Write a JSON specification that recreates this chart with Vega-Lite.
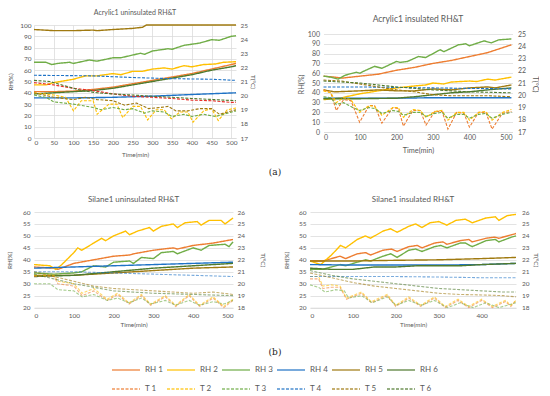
{
"$schema":"https://vega.github.io/schema/vega-lite/v6.json",
"background":"white",
"padding":{"left":6,"top":9,"right":0,"bottom":0},
"config":{
 "view":{"stroke":null},
 "font":"Lato",
 "title":{"font":"Lato","color":"#595959","fontWeight":"normal","fontSize":8},
 "axis":{"labelFont":"Lato","titleFont":"Lato","labelColor":"#595959","titleColor":"#595959","titleFontWeight":"normal","ticks":false,"domain":false,"gridColor":"#d9d9d9","gridWidth":0.75,"labelFontSize":6.5,"titleFontSize":6.3,"labelOverlap":false},
 "axisX":{"domain":true,"domainColor":"#d9d9d9","domainWidth":0.75,"grid":false,"labelOverlap":false}
},
"datasets":{
"TL":[
{"s":"RH 1","x":0,"y":41},{"s":"RH 1","x":50,"y":41},{"s":"RH 1","x":100,"y":41.5},{"s":"RH 1","x":150,"y":43},{"s":"RH 1","x":200,"y":45},{"s":"RH 1","x":250,"y":48},{"s":"RH 1","x":300,"y":51},{"s":"RH 1","x":350,"y":54},{"s":"RH 1","x":400,"y":57},{"s":"RH 1","x":450,"y":61},{"s":"RH 1","x":500,"y":65},{"s":"RH 1","x":512,"y":66},
{"s":"RH 2","x":0,"y":47},{"s":"RH 2","x":30,"y":47},{"s":"RH 2","x":50,"y":49},{"s":"RH 2","x":100,"y":52},{"s":"RH 2","x":130,"y":55},{"s":"RH 2","x":160,"y":55},{"s":"RH 2","x":200,"y":57},{"s":"RH 2","x":220,"y":56},{"s":"RH 2","x":250,"y":59},{"s":"RH 2","x":275,"y":59},{"s":"RH 2","x":300,"y":61},{"s":"RH 2","x":330,"y":62},{"s":"RH 2","x":350,"y":61},{"s":"RH 2","x":380,"y":64},{"s":"RH 2","x":400,"y":63},{"s":"RH 2","x":430,"y":65},{"s":"RH 2","x":460,"y":65.5},{"s":"RH 2","x":480,"y":67},{"s":"RH 2","x":512,"y":67.5},
{"s":"RH 3","x":0,"y":67},{"s":"RH 3","x":30,"y":67},{"s":"RH 3","x":45,"y":65},{"s":"RH 3","x":60,"y":66},{"s":"RH 3","x":90,"y":67},{"s":"RH 3","x":100,"y":66},{"s":"RH 3","x":140,"y":69},{"s":"RH 3","x":160,"y":68},{"s":"RH 3","x":200,"y":71},{"s":"RH 3","x":220,"y":71},{"s":"RH 3","x":270,"y":75},{"s":"RH 3","x":280,"y":74},{"s":"RH 3","x":300,"y":77},{"s":"RH 3","x":340,"y":79},{"s":"RH 3","x":350,"y":78.5},{"s":"RH 3","x":380,"y":82},{"s":"RH 3","x":400,"y":83},{"s":"RH 3","x":420,"y":84},{"s":"RH 3","x":450,"y":87},{"s":"RH 3","x":470,"y":86.5},{"s":"RH 3","x":500,"y":90},{"s":"RH 3","x":512,"y":90.5},
{"s":"RH 4","x":0,"y":35.5},{"s":"RH 4","x":100,"y":35.5},{"s":"RH 4","x":200,"y":36},{"s":"RH 4","x":300,"y":37},{"s":"RH 4","x":400,"y":38.5},{"s":"RH 4","x":512,"y":40},
{"s":"RH 5","x":0,"y":96},{"s":"RH 5","x":50,"y":95},{"s":"RH 5","x":100,"y":95},{"s":"RH 5","x":150,"y":95.5},{"s":"RH 5","x":160,"y":95},{"s":"RH 5","x":200,"y":96},{"s":"RH 5","x":250,"y":97},{"s":"RH 5","x":275,"y":98},{"s":"RH 5","x":285,"y":100},{"s":"RH 5","x":512,"y":100},
{"s":"RH 6","x":0,"y":39},{"s":"RH 6","x":50,"y":40},{"s":"RH 6","x":100,"y":41},{"s":"RH 6","x":150,"y":42},{"s":"RH 6","x":200,"y":44},{"s":"RH 6","x":250,"y":47},{"s":"RH 6","x":300,"y":50},{"s":"RH 6","x":350,"y":53},{"s":"RH 6","x":400,"y":56},{"s":"RH 6","x":450,"y":60},{"s":"RH 6","x":500,"y":63},{"s":"RH 6","x":512,"y":64},
{"s":"T 1","x":0,"y":20.92},{"s":"T 1","x":50,"y":20.76},{"s":"T 1","x":100,"y":20.52},{"s":"T 1","x":150,"y":20.36},{"s":"T 1","x":200,"y":20.12},{"s":"T 1","x":250,"y":19.96},{"s":"T 1","x":300,"y":19.88},{"s":"T 1","x":350,"y":19.8},{"s":"T 1","x":400,"y":19.68},{"s":"T 1","x":450,"y":19.64},{"s":"T 1","x":500,"y":19.52},{"s":"T 1","x":512,"y":19.52},
{"s":"T 2","x":0,"y":20.2},{"s":"T 2","x":50,"y":20.04},{"s":"T 2","x":80,"y":19.88},{"s":"T 2","x":100,"y":18.92},{"s":"T 2","x":120,"y":19.64},{"s":"T 2","x":150,"y":19.64},{"s":"T 2","x":160,"y":18.68},{"s":"T 2","x":190,"y":19.4},{"s":"T 2","x":210,"y":19.4},{"s":"T 2","x":225,"y":18.44},{"s":"T 2","x":250,"y":19.24},{"s":"T 2","x":270,"y":19.24},{"s":"T 2","x":288,"y":18.28},{"s":"T 2","x":310,"y":19.0},{"s":"T 2","x":330,"y":19.0},{"s":"T 2","x":348,"y":18.36},{"s":"T 2","x":370,"y":18.84},{"s":"T 2","x":390,"y":18.84},{"s":"T 2","x":403,"y":18.12},{"s":"T 2","x":430,"y":18.92},{"s":"T 2","x":450,"y":19.08},{"s":"T 2","x":467,"y":18.24},{"s":"T 2","x":490,"y":19.0},{"s":"T 2","x":512,"y":19.12},
{"s":"T 3","x":0,"y":20.04},{"s":"T 3","x":30,"y":19.88},{"s":"T 3","x":50,"y":19.56},{"s":"T 3","x":100,"y":19.4},{"s":"T 3","x":150,"y":19.16},{"s":"T 3","x":170,"y":19.0},{"s":"T 3","x":200,"y":19.16},{"s":"T 3","x":230,"y":19.0},{"s":"T 3","x":250,"y":19.08},{"s":"T 3","x":280,"y":18.76},{"s":"T 3","x":300,"y":18.92},{"s":"T 3","x":330,"y":18.84},{"s":"T 3","x":350,"y":18.52},{"s":"T 3","x":380,"y":18.68},{"s":"T 3","x":400,"y":18.52},{"s":"T 3","x":430,"y":18.68},{"s":"T 3","x":460,"y":18.52},{"s":"T 3","x":480,"y":18.68},{"s":"T 3","x":512,"y":18.92},
{"s":"T 4","x":0,"y":21.44},{"s":"T 4","x":150,"y":21.4},{"s":"T 4","x":250,"y":21.28},{"s":"T 4","x":350,"y":21.2},{"s":"T 4","x":450,"y":21.16},{"s":"T 4","x":512,"y":21.08},
{"s":"T 5","x":0,"y":20.2},{"s":"T 5","x":50,"y":19.88},{"s":"T 5","x":100,"y":19.72},{"s":"T 5","x":130,"y":19.88},{"s":"T 5","x":160,"y":19.72},{"s":"T 5","x":200,"y":19.64},{"s":"T 5","x":230,"y":19.32},{"s":"T 5","x":260,"y":19.48},{"s":"T 5","x":290,"y":19.08},{"s":"T 5","x":320,"y":19.16},{"s":"T 5","x":340,"y":19.24},{"s":"T 5","x":360,"y":18.92},{"s":"T 5","x":390,"y":18.92},{"s":"T 5","x":420,"y":19.08},{"s":"T 5","x":450,"y":19.08},{"s":"T 5","x":470,"y":18.68},{"s":"T 5","x":512,"y":19.0},
{"s":"T 6","x":0,"y":21.08},{"s":"T 6","x":40,"y":21.0},{"s":"T 6","x":80,"y":20.68},{"s":"T 6","x":120,"y":20.36},{"s":"T 6","x":160,"y":20.2},{"s":"T 6","x":200,"y":20.12},{"s":"T 6","x":250,"y":20.04},{"s":"T 6","x":300,"y":19.96},{"s":"T 6","x":400,"y":19.8},{"s":"T 6","x":512,"y":19.64}
],
"TR":[
{"s":"RH 1","x":0,"y":57},{"s":"RH 1","x":30,"y":56},{"s":"RH 1","x":50,"y":55},{"s":"RH 1","x":100,"y":57},{"s":"RH 1","x":150,"y":59},{"s":"RH 1","x":200,"y":63},{"s":"RH 1","x":250,"y":66},{"s":"RH 1","x":300,"y":70},{"s":"RH 1","x":350,"y":73},{"s":"RH 1","x":400,"y":77},{"s":"RH 1","x":450,"y":81},{"s":"RH 1","x":515,"y":89},
{"s":"RH 2","x":0,"y":33},{"s":"RH 2","x":50,"y":35},{"s":"RH 2","x":100,"y":39},{"s":"RH 2","x":150,"y":42},{"s":"RH 2","x":200,"y":45},{"s":"RH 2","x":250,"y":47},{"s":"RH 2","x":280,"y":48},{"s":"RH 2","x":300,"y":50},{"s":"RH 2","x":330,"y":49},{"s":"RH 2","x":350,"y":51},{"s":"RH 2","x":400,"y":52},{"s":"RH 2","x":420,"y":51.5},{"s":"RH 2","x":450,"y":54},{"s":"RH 2","x":470,"y":53},{"s":"RH 2","x":515,"y":56},
{"s":"RH 3","x":0,"y":57},{"s":"RH 3","x":20,"y":56},{"s":"RH 3","x":40,"y":54},{"s":"RH 3","x":60,"y":58},{"s":"RH 3","x":90,"y":61},{"s":"RH 3","x":100,"y":60},{"s":"RH 3","x":110,"y":62},{"s":"RH 3","x":140,"y":67},{"s":"RH 3","x":160,"y":65},{"s":"RH 3","x":200,"y":72},{"s":"RH 3","x":210,"y":71},{"s":"RH 3","x":230,"y":72},{"s":"RH 3","x":260,"y":77},{"s":"RH 3","x":280,"y":76},{"s":"RH 3","x":320,"y":84},{"s":"RH 3","x":330,"y":82},{"s":"RH 3","x":370,"y":89},{"s":"RH 3","x":390,"y":90},{"s":"RH 3","x":400,"y":88},{"s":"RH 3","x":440,"y":93},{"s":"RH 3","x":460,"y":91},{"s":"RH 3","x":480,"y":94},{"s":"RH 3","x":515,"y":95},
{"s":"RH 4","x":0,"y":34.5},{"s":"RH 4","x":100,"y":34.5},{"s":"RH 4","x":200,"y":34.5},{"s":"RH 4","x":300,"y":35},{"s":"RH 4","x":400,"y":35},{"s":"RH 4","x":515,"y":35},
{"s":"RH 5","x":0,"y":43},{"s":"RH 5","x":30,"y":41},{"s":"RH 5","x":100,"y":42},{"s":"RH 5","x":150,"y":43},{"s":"RH 5","x":200,"y":42},{"s":"RH 5","x":250,"y":42},{"s":"RH 5","x":300,"y":44},{"s":"RH 5","x":350,"y":43},{"s":"RH 5","x":400,"y":45},{"s":"RH 5","x":450,"y":46},{"s":"RH 5","x":470,"y":45},{"s":"RH 5","x":515,"y":48},
{"s":"RH 6","x":0,"y":34},{"s":"RH 6","x":100,"y":34},{"s":"RH 6","x":200,"y":34.5},{"s":"RH 6","x":250,"y":36},{"s":"RH 6","x":300,"y":38},{"s":"RH 6","x":350,"y":40},{"s":"RH 6","x":400,"y":41},{"s":"RH 6","x":450,"y":43},{"s":"RH 6","x":515,"y":45},
{"s":"T 1","x":0,"y":20.44},{"s":"T 1","x":20,"y":20.2},{"s":"T 1","x":35,"y":18.76},{"s":"T 1","x":55,"y":19.64},{"s":"T 1","x":75,"y":19.56},{"s":"T 1","x":99,"y":17.8},{"s":"T 1","x":125,"y":19.16},{"s":"T 1","x":140,"y":19.16},{"s":"T 1","x":160,"y":17.72},{"s":"T 1","x":190,"y":19.0},{"s":"T 1","x":205,"y":18.92},{"s":"T 1","x":219,"y":17.48},{"s":"T 1","x":245,"y":18.76},{"s":"T 1","x":265,"y":18.76},{"s":"T 1","x":281,"y":17.56},{"s":"T 1","x":305,"y":18.68},{"s":"T 1","x":325,"y":18.68},{"s":"T 1","x":341,"y":17.24},{"s":"T 1","x":365,"y":18.6},{"s":"T 1","x":385,"y":18.52},{"s":"T 1","x":400,"y":17.4},{"s":"T 1","x":425,"y":18.6},{"s":"T 1","x":445,"y":18.6},{"s":"T 1","x":462,"y":17.24},{"s":"T 1","x":490,"y":18.52},{"s":"T 1","x":515,"y":18.68},
{"s":"T 2","x":0,"y":20.36},{"s":"T 2","x":20,"y":20.2},{"s":"T 2","x":35,"y":19.4},{"s":"T 2","x":55,"y":19.8},{"s":"T 2","x":75,"y":19.64},{"s":"T 2","x":99,"y":18.6},{"s":"T 2","x":125,"y":19.16},{"s":"T 2","x":140,"y":19.08},{"s":"T 2","x":160,"y":18.36},{"s":"T 2","x":190,"y":19.0},{"s":"T 2","x":205,"y":19.0},{"s":"T 2","x":219,"y":18.2},{"s":"T 2","x":245,"y":18.84},{"s":"T 2","x":265,"y":18.76},{"s":"T 2","x":281,"y":18.2},{"s":"T 2","x":305,"y":18.68},{"s":"T 2","x":325,"y":18.76},{"s":"T 2","x":341,"y":17.96},{"s":"T 2","x":365,"y":18.6},{"s":"T 2","x":385,"y":18.6},{"s":"T 2","x":400,"y":17.96},{"s":"T 2","x":425,"y":18.6},{"s":"T 2","x":445,"y":18.68},{"s":"T 2","x":462,"y":17.96},{"s":"T 2","x":490,"y":18.6},{"s":"T 2","x":515,"y":18.84},
{"s":"T 3","x":0,"y":19.88},{"s":"T 3","x":20,"y":19.8},{"s":"T 3","x":35,"y":19.24},{"s":"T 3","x":55,"y":19.4},{"s":"T 3","x":80,"y":19.0},{"s":"T 3","x":99,"y":18.76},{"s":"T 3","x":125,"y":19.0},{"s":"T 3","x":140,"y":18.92},{"s":"T 3","x":160,"y":18.52},{"s":"T 3","x":190,"y":18.76},{"s":"T 3","x":205,"y":18.68},{"s":"T 3","x":219,"y":18.36},{"s":"T 3","x":245,"y":18.6},{"s":"T 3","x":265,"y":18.6},{"s":"T 3","x":281,"y":18.28},{"s":"T 3","x":305,"y":18.52},{"s":"T 3","x":325,"y":18.6},{"s":"T 3","x":341,"y":18.12},{"s":"T 3","x":365,"y":18.44},{"s":"T 3","x":385,"y":18.44},{"s":"T 3","x":400,"y":18.12},{"s":"T 3","x":425,"y":18.44},{"s":"T 3","x":445,"y":18.52},{"s":"T 3","x":462,"y":18.12},{"s":"T 3","x":490,"y":18.44},{"s":"T 3","x":515,"y":18.6},
{"s":"T 4","x":0,"y":20.68},{"s":"T 4","x":100,"y":20.68},{"s":"T 4","x":200,"y":20.64},{"s":"T 4","x":300,"y":20.6},{"s":"T 4","x":400,"y":20.56},{"s":"T 4","x":515,"y":20.52},
{"s":"T 5","x":0,"y":21.24},{"s":"T 5","x":50,"y":21.16},{"s":"T 5","x":100,"y":20.92},{"s":"T 5","x":150,"y":20.68},{"s":"T 5","x":200,"y":20.44},{"s":"T 5","x":250,"y":20.28},{"s":"T 5","x":300,"y":20.04},{"s":"T 5","x":350,"y":19.96},{"s":"T 5","x":400,"y":19.96},{"s":"T 5","x":450,"y":19.96},{"s":"T 5","x":515,"y":19.88},
{"s":"T 6","x":0,"y":21.16},{"s":"T 6","x":100,"y":21.0},{"s":"T 6","x":200,"y":20.68},{"s":"T 6","x":300,"y":20.44},{"s":"T 6","x":400,"y":20.28},{"s":"T 6","x":515,"y":20.2}
],
"BL":[
{"s":"RH 1","x":0,"y":37},{"s":"RH 1","x":50,"y":36.5},{"s":"RH 1","x":60,"y":36},{"s":"RH 1","x":100,"y":38.5},{"s":"RH 1","x":150,"y":40},{"s":"RH 1","x":200,"y":41.5},{"s":"RH 1","x":240,"y":42},{"s":"RH 1","x":250,"y":42.5},{"s":"RH 1","x":300,"y":44},{"s":"RH 1","x":350,"y":45},{"s":"RH 1","x":360,"y":44.5},{"s":"RH 1","x":400,"y":46},{"s":"RH 1","x":450,"y":47},{"s":"RH 1","x":500,"y":48.5},
{"s":"RH 2","x":0,"y":38},{"s":"RH 2","x":40,"y":37.5},{"s":"RH 2","x":55,"y":36},{"s":"RH 2","x":70,"y":38},{"s":"RH 2","x":100,"y":43},{"s":"RH 2","x":110,"y":45},{"s":"RH 2","x":120,"y":44},{"s":"RH 2","x":150,"y":47},{"s":"RH 2","x":170,"y":49},{"s":"RH 2","x":180,"y":48},{"s":"RH 2","x":200,"y":50},{"s":"RH 2","x":230,"y":52},{"s":"RH 2","x":240,"y":50.5},{"s":"RH 2","x":260,"y":52},{"s":"RH 2","x":290,"y":53.5},{"s":"RH 2","x":300,"y":52},{"s":"RH 2","x":320,"y":54},{"s":"RH 2","x":350,"y":55},{"s":"RH 2","x":360,"y":53.5},{"s":"RH 2","x":380,"y":55.5},{"s":"RH 2","x":410,"y":56},{"s":"RH 2","x":420,"y":54.5},{"s":"RH 2","x":440,"y":56.5},{"s":"RH 2","x":470,"y":56.5},{"s":"RH 2","x":480,"y":55},{"s":"RH 2","x":500,"y":57.5},
{"s":"RH 3","x":0,"y":34.5},{"s":"RH 3","x":50,"y":34},{"s":"RH 3","x":100,"y":34.5},{"s":"RH 3","x":120,"y":35},{"s":"RH 3","x":150,"y":37.5},{"s":"RH 3","x":180,"y":37},{"s":"RH 3","x":200,"y":39},{"s":"RH 3","x":240,"y":39.5},{"s":"RH 3","x":250,"y":38.5},{"s":"RH 3","x":270,"y":41},{"s":"RH 3","x":300,"y":40.5},{"s":"RH 3","x":320,"y":43},{"s":"RH 3","x":350,"y":43.5},{"s":"RH 3","x":360,"y":42.5},{"s":"RH 3","x":400,"y":45},{"s":"RH 3","x":420,"y":44},{"s":"RH 3","x":440,"y":46},{"s":"RH 3","x":480,"y":46.5},{"s":"RH 3","x":490,"y":45.5},{"s":"RH 3","x":500,"y":47.5},
{"s":"RH 4","x":0,"y":36.5},{"s":"RH 4","x":100,"y":37},{"s":"RH 4","x":200,"y":37.5},{"s":"RH 4","x":300,"y":38},{"s":"RH 4","x":400,"y":38.5},{"s":"RH 4","x":500,"y":39},
{"s":"RH 5","x":0,"y":33.5},{"s":"RH 5","x":100,"y":33.5},{"s":"RH 5","x":200,"y":34.5},{"s":"RH 5","x":300,"y":35.5},{"s":"RH 5","x":400,"y":36.5},{"s":"RH 5","x":500,"y":37},
{"s":"RH 6","x":0,"y":33},{"s":"RH 6","x":100,"y":33.5},{"s":"RH 6","x":200,"y":35},{"s":"RH 6","x":300,"y":36.5},{"s":"RH 6","x":400,"y":37.5},{"s":"RH 6","x":500,"y":38.5},
{"s":"T 1","x":0,"y":20.6},{"s":"T 1","x":50,"y":20.6},{"s":"T 1","x":60,"y":20.0},{"s":"T 1","x":100,"y":19.8},{"s":"T 1","x":121,"y":19.0},{"s":"T 1","x":150,"y":19.4},{"s":"T 1","x":184,"y":18.6},{"s":"T 1","x":210,"y":19.1},{"s":"T 1","x":239,"y":18.3},{"s":"T 1","x":270,"y":19.0},{"s":"T 1","x":293,"y":18.2},{"s":"T 1","x":330,"y":18.9},{"s":"T 1","x":356,"y":18.1},{"s":"T 1","x":390,"y":19.0},{"s":"T 1","x":416,"y":18.1},{"s":"T 1","x":450,"y":18.8},{"s":"T 1","x":477,"y":18.0},{"s":"T 1","x":500,"y":18.6},
{"s":"T 2","x":0,"y":20.7},{"s":"T 2","x":50,"y":20.7},{"s":"T 2","x":60,"y":20.2},{"s":"T 2","x":100,"y":20.0},{"s":"T 2","x":121,"y":19.2},{"s":"T 2","x":150,"y":19.6},{"s":"T 2","x":184,"y":18.7},{"s":"T 2","x":210,"y":19.2},{"s":"T 2","x":239,"y":18.4},{"s":"T 2","x":270,"y":19.1},{"s":"T 2","x":293,"y":18.3},{"s":"T 2","x":330,"y":19.0},{"s":"T 2","x":356,"y":18.2},{"s":"T 2","x":390,"y":19.1},{"s":"T 2","x":416,"y":18.2},{"s":"T 2","x":450,"y":18.9},{"s":"T 2","x":477,"y":18.1},{"s":"T 2","x":500,"y":18.7},
{"s":"T 3","x":0,"y":20.0},{"s":"T 3","x":40,"y":20.0},{"s":"T 3","x":60,"y":19.5},{"s":"T 3","x":100,"y":19.4},{"s":"T 3","x":121,"y":18.9},{"s":"T 3","x":150,"y":19.1},{"s":"T 3","x":184,"y":18.6},{"s":"T 3","x":210,"y":18.8},{"s":"T 3","x":239,"y":18.4},{"s":"T 3","x":270,"y":18.8},{"s":"T 3","x":293,"y":18.3},{"s":"T 3","x":330,"y":18.6},{"s":"T 3","x":356,"y":18.2},{"s":"T 3","x":390,"y":18.6},{"s":"T 3","x":416,"y":18.2},{"s":"T 3","x":450,"y":18.5},{"s":"T 3","x":477,"y":18.3},{"s":"T 3","x":500,"y":18.6},
{"s":"T 4","x":0,"y":21.0},{"s":"T 4","x":100,"y":21.0},{"s":"T 4","x":200,"y":20.9},{"s":"T 4","x":300,"y":20.8},{"s":"T 4","x":400,"y":20.7},{"s":"T 4","x":500,"y":20.6},
{"s":"T 5","x":0,"y":21.0},{"s":"T 5","x":50,"y":20.6},{"s":"T 5","x":100,"y":20.2},{"s":"T 5","x":150,"y":19.8},{"s":"T 5","x":200,"y":19.6},{"s":"T 5","x":250,"y":19.5},{"s":"T 5","x":300,"y":19.4},{"s":"T 5","x":350,"y":19.3},{"s":"T 5","x":400,"y":19.2},{"s":"T 5","x":450,"y":19.3},{"s":"T 5","x":500,"y":19.1},
{"s":"T 6","x":0,"y":20.8},{"s":"T 6","x":100,"y":20.0},{"s":"T 6","x":200,"y":19.4},{"s":"T 6","x":300,"y":19.2},{"s":"T 6","x":400,"y":19.1},{"s":"T 6","x":500,"y":19.0}
],
"BR":[
{"s":"RH 1","x":0,"y":39.5},{"s":"RH 1","x":30,"y":39.5},{"s":"RH 1","x":50,"y":40.5},{"s":"RH 1","x":70,"y":41.5},{"s":"RH 1","x":83,"y":40.5},{"s":"RH 1","x":110,"y":42.5},{"s":"RH 1","x":130,"y":43},{"s":"RH 1","x":141,"y":42},{"s":"RH 1","x":170,"y":44},{"s":"RH 1","x":190,"y":44.5},{"s":"RH 1","x":203,"y":43.5},{"s":"RH 1","x":230,"y":45.5},{"s":"RH 1","x":250,"y":46},{"s":"RH 1","x":261,"y":45},{"s":"RH 1","x":290,"y":47},{"s":"RH 1","x":310,"y":47.5},{"s":"RH 1","x":319,"y":46.5},{"s":"RH 1","x":350,"y":48},{"s":"RH 1","x":370,"y":48.5},{"s":"RH 1","x":378,"y":47.5},{"s":"RH 1","x":410,"y":49},{"s":"RH 1","x":430,"y":49.5},{"s":"RH 1","x":440,"y":49},{"s":"RH 1","x":470,"y":50.5},{"s":"RH 1","x":480,"y":51},
{"s":"RH 2","x":0,"y":39.5},{"s":"RH 2","x":25,"y":38},{"s":"RH 2","x":50,"y":42},{"s":"RH 2","x":71,"y":46},{"s":"RH 2","x":83,"y":45},{"s":"RH 2","x":110,"y":48.5},{"s":"RH 2","x":129,"y":50},{"s":"RH 2","x":141,"y":49},{"s":"RH 2","x":170,"y":52},{"s":"RH 2","x":188,"y":53},{"s":"RH 2","x":203,"y":51.5},{"s":"RH 2","x":230,"y":54},{"s":"RH 2","x":246,"y":55},{"s":"RH 2","x":261,"y":53.5},{"s":"RH 2","x":280,"y":55.5},{"s":"RH 2","x":300,"y":56},{"s":"RH 2","x":319,"y":54.5},{"s":"RH 2","x":340,"y":56.5},{"s":"RH 2","x":362,"y":57},{"s":"RH 2","x":378,"y":55.5},{"s":"RH 2","x":410,"y":57.5},{"s":"RH 2","x":432,"y":58},{"s":"RH 2","x":440,"y":56.5},{"s":"RH 2","x":460,"y":58.5},{"s":"RH 2","x":480,"y":59},
{"s":"RH 3","x":0,"y":36},{"s":"RH 3","x":30,"y":36},{"s":"RH 3","x":50,"y":37},{"s":"RH 3","x":71,"y":38},{"s":"RH 3","x":83,"y":37.5},{"s":"RH 3","x":110,"y":39},{"s":"RH 3","x":129,"y":40},{"s":"RH 3","x":141,"y":39.5},{"s":"RH 3","x":170,"y":41.5},{"s":"RH 3","x":188,"y":42.5},{"s":"RH 3","x":203,"y":41},{"s":"RH 3","x":230,"y":44},{"s":"RH 3","x":246,"y":44.5},{"s":"RH 3","x":261,"y":43.5},{"s":"RH 3","x":290,"y":45.5},{"s":"RH 3","x":305,"y":46},{"s":"RH 3","x":319,"y":45},{"s":"RH 3","x":350,"y":47},{"s":"RH 3","x":362,"y":47},{"s":"RH 3","x":378,"y":45.5},{"s":"RH 3","x":410,"y":48},{"s":"RH 3","x":432,"y":48.5},{"s":"RH 3","x":440,"y":47.5},{"s":"RH 3","x":470,"y":49.5},{"s":"RH 3","x":480,"y":50},
{"s":"RH 4","x":0,"y":38},{"s":"RH 4","x":100,"y":37.8},{"s":"RH 4","x":200,"y":37.8},{"s":"RH 4","x":300,"y":37.8},{"s":"RH 4","x":400,"y":38},{"s":"RH 4","x":480,"y":38.5},
{"s":"RH 5","x":0,"y":39.5},{"s":"RH 5","x":100,"y":39.5},{"s":"RH 5","x":200,"y":39.8},{"s":"RH 5","x":300,"y":40},{"s":"RH 5","x":400,"y":40.5},{"s":"RH 5","x":480,"y":41},
{"s":"RH 6","x":0,"y":36.5},{"s":"RH 6","x":50,"y":36},{"s":"RH 6","x":100,"y":36},{"s":"RH 6","x":150,"y":37},{"s":"RH 6","x":200,"y":37},{"s":"RH 6","x":250,"y":37.5},{"s":"RH 6","x":300,"y":37.5},{"s":"RH 6","x":350,"y":37.5},{"s":"RH 6","x":400,"y":38},{"s":"RH 6","x":480,"y":38.5},
{"s":"T 1","x":0,"y":20.4},{"s":"T 1","x":20,"y":20.4},{"s":"T 1","x":30,"y":19.6},{"s":"T 1","x":50,"y":19.7},{"s":"T 1","x":70,"y":19.7},{"s":"T 1","x":85,"y":18.7},{"s":"T 1","x":120,"y":19.2},{"s":"T 1","x":143,"y":18.4},{"s":"T 1","x":180,"y":19.0},{"s":"T 1","x":200,"y":18.1},{"s":"T 1","x":230,"y":18.8},{"s":"T 1","x":258,"y":18.1},{"s":"T 1","x":290,"y":18.8},{"s":"T 1","x":315,"y":18.0},{"s":"T 1","x":345,"y":18.6},{"s":"T 1","x":370,"y":18.0},{"s":"T 1","x":400,"y":18.6},{"s":"T 1","x":425,"y":18.0},{"s":"T 1","x":455,"y":18.5},{"s":"T 1","x":468,"y":18.1},{"s":"T 1","x":480,"y":18.6},
{"s":"T 2","x":0,"y":20.6},{"s":"T 2","x":20,"y":20.6},{"s":"T 2","x":30,"y":19.8},{"s":"T 2","x":50,"y":19.9},{"s":"T 2","x":70,"y":19.8},{"s":"T 2","x":85,"y":18.8},{"s":"T 2","x":120,"y":19.3},{"s":"T 2","x":143,"y":18.5},{"s":"T 2","x":180,"y":19.1},{"s":"T 2","x":200,"y":18.2},{"s":"T 2","x":230,"y":18.9},{"s":"T 2","x":258,"y":18.2},{"s":"T 2","x":290,"y":18.9},{"s":"T 2","x":315,"y":18.1},{"s":"T 2","x":345,"y":18.7},{"s":"T 2","x":370,"y":18.1},{"s":"T 2","x":400,"y":18.7},{"s":"T 2","x":425,"y":18.1},{"s":"T 2","x":455,"y":18.6},{"s":"T 2","x":468,"y":18.2},{"s":"T 2","x":480,"y":18.6},
{"s":"T 3","x":0,"y":19.9},{"s":"T 3","x":20,"y":19.7},{"s":"T 3","x":35,"y":19.3},{"s":"T 3","x":60,"y":19.5},{"s":"T 3","x":80,"y":19.4},{"s":"T 3","x":90,"y":18.8},{"s":"T 3","x":120,"y":19.0},{"s":"T 3","x":145,"y":18.4},{"s":"T 3","x":180,"y":18.9},{"s":"T 3","x":200,"y":18.2},{"s":"T 3","x":230,"y":18.6},{"s":"T 3","x":260,"y":18.2},{"s":"T 3","x":290,"y":18.6},{"s":"T 3","x":320,"y":18.0},{"s":"T 3","x":350,"y":18.4},{"s":"T 3","x":380,"y":18.0},{"s":"T 3","x":410,"y":18.4},{"s":"T 3","x":440,"y":18.0},{"s":"T 3","x":470,"y":18.3},{"s":"T 3","x":480,"y":18.4},
{"s":"T 4","x":0,"y":20.6},{"s":"T 4","x":100,"y":20.6},{"s":"T 4","x":200,"y":20.6},{"s":"T 4","x":300,"y":20.56},{"s":"T 4","x":400,"y":20.5},{"s":"T 4","x":480,"y":20.5},
{"s":"T 5","x":0,"y":20.9},{"s":"T 5","x":50,"y":20.5},{"s":"T 5","x":100,"y":20.1},{"s":"T 5","x":150,"y":19.8},{"s":"T 5","x":200,"y":19.6},{"s":"T 5","x":250,"y":19.4},{"s":"T 5","x":300,"y":19.2},{"s":"T 5","x":350,"y":19.1},{"s":"T 5","x":400,"y":19.06},{"s":"T 5","x":450,"y":19.0},{"s":"T 5","x":480,"y":18.9},
{"s":"T 6","x":0,"y":21.1},{"s":"T 6","x":50,"y":20.7},{"s":"T 6","x":100,"y":20.4},{"s":"T 6","x":150,"y":20.2},{"s":"T 6","x":200,"y":20.0},{"s":"T 6","x":250,"y":19.8},{"s":"T 6","x":300,"y":19.6},{"s":"T 6","x":350,"y":19.5},{"s":"T 6","x":400,"y":19.4},{"s":"T 6","x":450,"y":19.3},{"s":"T 6","x":480,"y":19.3}
]
},
"vconcat":[
{"hconcat":[
 {"width":202,"height":113,"data":{"name":"TL"},
  "title":{"text":"Acrylic1 uninsulated RH&T","fontSize":7,"offset":6},
  "layer":[
   {"transform":[{"filter":"test(/^RH/, datum.s)"}],
    "mark":{"type":"line","strokeWidth":1.4},
    "encoding":{
     "x":{"field":"x","type":"quantitative","scale":{"domain":[0,512],"nice":false,"zero":false},"axis":{"title":"Time(min)","values":[0,50,100,150,200,250,300,350,400,450,500],"grid":true,"labelOverlap":false,"labelPadding":1,"titlePadding":5.5}},
     "y":{"field":"y","type":"quantitative","scale":{"domain":[0,100],"nice":false},"axis":{"title":"RH(%)","values":[0,10,20,30,40,50,60,70,80,90,100],"grid":true,"labelPadding":3,"titlePadding":6}},
     "color":{"field":"s","type":"nominal","scale":{"domain":["RH 1","RH 2","RH 3","RH 4","RH 5","RH 6","T 1","T 2","T 3","T 4","T 5","T 6"],"range":["#ED7D31","#FFC000","#70AD47","#1F73C6","#A07A10","#4F7A2E","#ED7D31","#FFC000","#70AD47","#1F73C6","#A07A10","#4F7A2E"]},"legend":{"title":null,"orient":"none","direction":"horizontal","legendX":77,"legendY":330,"columns":6,"symbolType":"stroke","symbolSize":784,"symbolStrokeWidth":2,"labelFontSize":8,"labelColor":"#595959","labelFont":"Lato","columnPadding":0,"rowPadding":0,"labelOffset":4}},
     "strokeDash":{"field":"s","type":"nominal","scale":{"domain":["RH 1","RH 2","RH 3","RH 4","RH 5","RH 6","T 1","T 2","T 3","T 4","T 5","T 6"],"range":[[1,0],[1,0],[1,0],[1,0],[1,0],[1,0],[3,1.5],[3,1.5],[3,1.5],[3,1.5],[3,1.5],[3,1.5]]},"legend":{"title":null,"orient":"none","direction":"horizontal","legendX":77,"legendY":330,"columns":6,"symbolType":"stroke","symbolSize":784,"symbolStrokeWidth":2,"labelFontSize":8,"labelColor":"#595959","labelFont":"Lato","columnPadding":0,"rowPadding":0,"labelOffset":4}}
    }},
   {"transform":[{"filter":"test(/^T/, datum.s)"}],
    "mark":{"type":"line","strokeWidth":1.1},
    "encoding":{
     "x":{"field":"x","type":"quantitative","scale":{"domain":[0,512],"nice":false,"zero":false},"axis":{"title":"Time(min)","values":[0,50,100,150,200,250,300,350,400,450,500],"grid":true,"labelOverlap":false,"labelPadding":1,"titlePadding":5.5}},
     "y":{"field":"y","type":"quantitative","scale":{"domain":[17,25],"nice":false,"zero":false},"axis":{"title":"T(°C)","orient":"right","values":[17,18,19,20,21,22,23,24,25],"grid":false,"labelPadding":4,"titlePadding":2}},
     "color":{"condition":{"test":"datum.s === 'T 1'","value":"#E8302A"},"field":"s","type":"nominal"},
     "strokeDash":{"field":"s","type":"nominal"}
    }}
  ],
  "resolve":{"scale":{"y":"independent"}}
 },
 {"width":189,"height":107,"data":{"name":"TR"},
  "title":{"text":"Acrylic1 insulated RH&T","fontSize":8.5,"offset":2},
  "layer":[
   {"transform":[{"filter":"test(/^RH/, datum.s)"}],
    "mark":{"type":"line","strokeWidth":1.4},
    "encoding":{
     "x":{"field":"x","type":"quantitative","scale":{"domain":[0,518],"nice":false,"zero":false},"axis":{"title":"Time(min)","values":[0,100,200,300,400,500],"labelOverlap":false,"labelFontSize":7,"titleFontSize":7.3,"labelPadding":1,"titlePadding":6}},
     "y":{"field":"y","type":"quantitative","scale":{"domain":[0,109.2],"nice":false},"axis":{"title":"RH(%)","titleY":59,"values":[0,10,20,30,40,50,60,70,80,90,100],"grid":true,"labelFontSize":7,"titleFontSize":7.3,"labelPadding":4,"titlePadding":2}},
     "color":{"field":"s","type":"nominal"},
     "strokeDash":{"field":"s","type":"nominal"}
    }},
   {"transform":[{"filter":"test(/^T/, datum.s)"}],
    "mark":{"type":"line","strokeWidth":1.1},
    "encoding":{
     "x":{"field":"x","type":"quantitative","scale":{"domain":[0,518],"nice":false,"zero":false},"axis":{"title":"Time(min)","values":[0,100,200,300,400,500],"labelOverlap":false,"labelFontSize":7,"titleFontSize":7.3,"labelPadding":1,"titlePadding":6}},
     "y":{"field":"y","type":"quantitative","scale":{"domain":[17,25.736],"nice":false,"zero":false},"axis":{"title":"T(°C)","titleY":59,"values":[17,18,19,20,21,22,23,24,25],"orient":"right","grid":false,"labelFontSize":7,"titleFontSize":7.3,"labelPadding":5,"titlePadding":5}},
     "color":{"field":"s","type":"nominal"},
     "strokeDash":{"field":"s","type":"nominal"}
    }}
  ],
  "resolve":{"scale":{"y":"independent"}}
 }
],"spacing":40.5},
{"width":482,"height":38,"data":{"values":[{"t":"(a)"}]},"mark":{"type":"text","font":"DejaVu Serif","fontSize":9,"color":"#222222","dy":-4.75},"encoding":{"text":{"field":"t","type":"nominal"}}},
{"hconcat":[
 {"width":199,"height":95.6,"data":{"name":"BL"},
  "title":{"text":"Silane1 uninsulated RH&T","fontSize":8,"offset":4.7},
  "layer":[
   {"transform":[{"filter":"test(/^RH/, datum.s)"}],
    "mark":{"type":"line","strokeWidth":1.4},
    "encoding":{
     "x":{"field":"x","type":"quantitative","scale":{"domain":[0,500],"nice":false,"zero":false},"axis":{"title":"Time(min)","values":[0,100,200,300,400,500],"labelOverlap":false,"labelPadding":4.5,"titlePadding":3}},
     "y":{"field":"y","type":"quantitative","scale":{"domain":[20,60],"nice":false,"zero":false},"axis":{"title":"RH(%)","values":[20,25,30,35,40,45,50,55,60],"grid":true,"labelPadding":4,"titlePadding":10}},
     "color":{"field":"s","type":"nominal"},
     "strokeDash":{"field":"s","type":"nominal"}
    }},
   {"transform":[{"filter":"test(/^T/, datum.s)"}],
    "mark":{"type":"line","strokeWidth":1.1,"opacity":0.6},
    "encoding":{
     "x":{"field":"x","type":"quantitative","scale":{"domain":[0,500],"nice":false,"zero":false},"axis":{"title":"Time(min)","values":[0,100,200,300,400,500],"labelOverlap":false,"labelPadding":4.5,"titlePadding":3}},
     "y":{"field":"y","type":"quantitative","scale":{"domain":[18,26],"nice":false,"zero":false},"axis":{"title":"T(°C)","orient":"right","values":[18,19,20,21,22,23,24,25,26],"grid":false,"labelPadding":4,"titlePadding":15}},
     "color":{"field":"s","type":"nominal"},
     "strokeDash":{"field":"s","type":"nominal"}
    }}
  ],
  "resolve":{"scale":{"y":"independent"}}
 },
 {"width":206,"height":95.6,"data":{"name":"BR"},
  "title":{"text":"Silane1 insulated RH&T","fontSize":8,"offset":4.7},
  "layer":[
   {"transform":[{"filter":"test(/^RH/, datum.s)"}],
    "mark":{"type":"line","strokeWidth":1.4},
    "encoding":{
     "x":{"field":"x","type":"quantitative","scale":{"domain":[0,480],"nice":false,"zero":false},"axis":{"title":"Time(min)","values":[0,100,200,300,400],"labelOverlap":false,"labelPadding":4.5,"titlePadding":3}},
     "y":{"field":"y","type":"quantitative","scale":{"domain":[20,60],"nice":false,"zero":false},"axis":{"title":"RH(%)","values":[20,25,30,35,40,45,50,55,60],"grid":true,"labelPadding":4,"titlePadding":9}},
     "color":{"field":"s","type":"nominal"},
     "strokeDash":{"field":"s","type":"nominal"}
    }},
   {"transform":[{"filter":"test(/^T/, datum.s)"}],
    "mark":{"type":"line","strokeWidth":1.1,"opacity":0.6},
    "encoding":{
     "x":{"field":"x","type":"quantitative","scale":{"domain":[0,480],"nice":false,"zero":false},"axis":{"title":"Time(min)","values":[0,100,200,300,400],"labelOverlap":false,"labelPadding":4.5,"titlePadding":3}},
     "y":{"field":"y","type":"quantitative","scale":{"domain":[18,26],"nice":false,"zero":false},"axis":{"title":"T(°C)","orient":"right","values":[18,19,20,21,22,23,24,25,26],"grid":false,"labelPadding":5.5,"titlePadding":3.5}},
     "color":{"field":"s","type":"nominal"},
     "strokeDash":{"field":"s","type":"nominal"}
    }}
  ],
  "resolve":{"scale":{"y":"independent"}}
 }
],"spacing":17},
{"width":482,"height":30,"data":{"values":[{"t":"(b)"}]},"mark":{"type":"text","font":"DejaVu Serif","fontSize":9,"color":"#222222","dy":9},"encoding":{"text":{"field":"t","type":"nominal"}}}
],
"spacing":0
}
